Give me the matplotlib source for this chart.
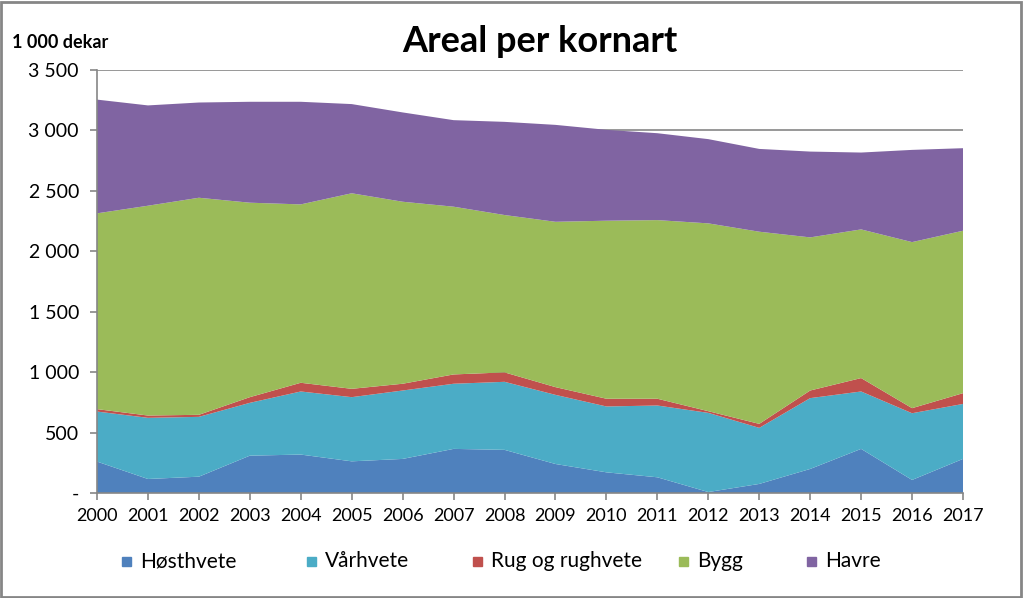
import matplotlib.pyplot as plt
from matplotlib.patches import Rectangle
from matplotlib.ticker import FuncFormatter
import numpy as np

# Areal per kornart, 1 000 dekar
years = list(range(2000, 2018))
hosthvete = [260, 116, 135, 309, 318, 262, 282, 365, 357, 240, 171, 130, 8, 75, 199, 365, 108, 282]
varhvete = [414, 506, 495, 437, 522, 531, 566, 539, 563, 572, 545, 594, 655, 464, 586, 475, 552, 455]
rug = [20, 19, 17, 47, 72, 69, 56, 77, 78, 64, 64, 56, 14, 33, 63, 111, 42, 89]
bygg = [1620, 1736, 1796, 1609, 1476, 1618, 1506, 1388, 1302, 1368, 1473, 1478, 1554, 1590, 1267, 1230, 1374, 1344]
havre = [941, 830, 788, 835, 849, 738, 739, 716, 771, 802, 752, 719, 697, 685, 710, 636, 763, 683]

labels = ["Høsthvete", "Vårhvete", "Rug og rughvete", "Bygg", "Havre"]
colors = ["#4F81BD", "#4BACC6", "#C0504D", "#9BBB59", "#8064A2"]

plt.rcParams['font.family'] = ['Lato', 'DejaVu Sans']

W, H = 1023, 598
fig = plt.figure(figsize=(W / 100, H / 100), dpi=100, facecolor='white')
ax = fig.add_axes([97 / W, 1 - 493 / H, (963 - 97) / W, (493 - 70) / H])

ax.stackplot(years, hosthvete, varhvete, rug, bygg, havre, colors=colors,
             labels=labels, linewidth=0, zorder=2)

ax.set_xlim(2000, 2017)
ax.set_ylim(0, 3500)
ax.set_yticks(np.arange(0, 3501, 500))
ax.set_xticks(years)
ax.yaxis.set_major_formatter(FuncFormatter(
    lambda v, p: "-" if v == 0 else f"{int(v):,}".replace(",", " ")))
ax.grid(axis='y', color='#868686', linewidth=1.2, zorder=1)
ax.set_axisbelow(True)

for s in ['top', 'right']:
    ax.spines[s].set_visible(False)
for s in ['left', 'bottom']:
    ax.spines[s].set_color('#868686')
    ax.spines[s].set_linewidth(1.2)
    ax.spines[s].set_zorder(3)
ax.tick_params(axis='both', direction='out', length=5, color='#868686',
               width=1.2, labelcolor='black')
ax.tick_params(axis='x', pad=6, labelsize=13)
ax.tick_params(axis='y', pad=8, labelsize=14)

fig.text(540 / W, 1 - 42 / H, "Areal per kornart", ha='center', va='center',
         fontsize=26, fontweight='bold')
fig.text(12 / W, 1 - 42 / H, "1 000 dekar", ha='left', va='center',
         fontsize=13, fontweight='bold')

# legend drawn by hand to keep Excel-like spacing
legend_x = [127, 312, 478, 684, 812]
for lx, lab, col in zip(legend_x, labels, colors):
    fig.patches.append(Rectangle(((lx - 5) / W, 1 - 566 / H), 9 / W, 9 / H,
                                 transform=fig.transFigure, color=col))
    fig.text((lx + 13) / W, 1 - 561 / H, lab, ha='left', va='center', fontsize=15)

fig.patches.append(Rectangle((1 / W, 1 / H), 1 - 3 / W, 1 - 3 / H, transform=fig.transFigure,
                             fill=False, edgecolor='#868686', linewidth=2))

fig.savefig("out.png", dpi=100)
